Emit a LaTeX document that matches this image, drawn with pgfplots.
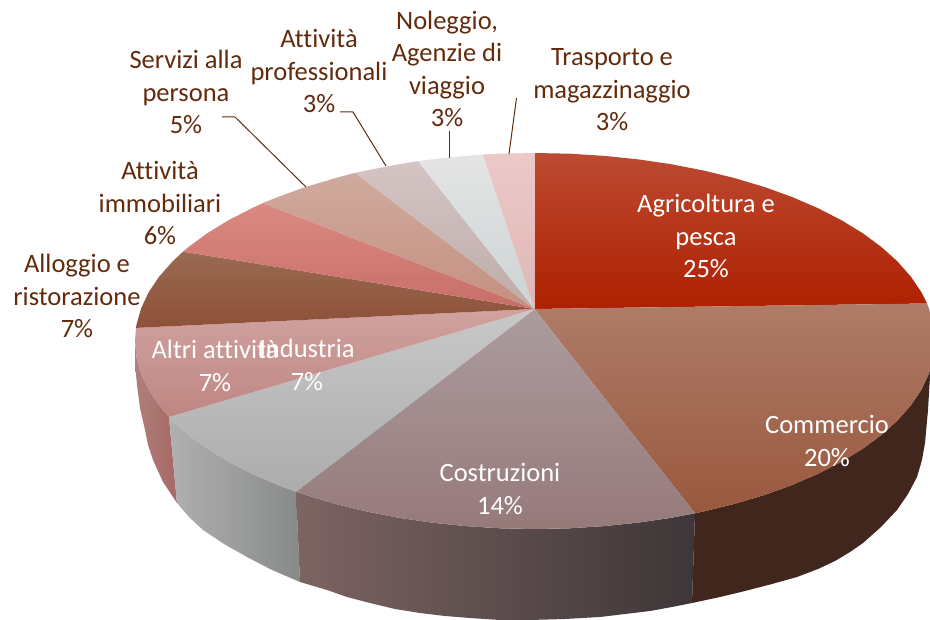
\documentclass[border=0pt]{standalone}
\usepackage{pgfplots}
\pgfplotsset{compat=1.18}
\usepackage{fontspec}
\setmainfont[Ligatures=NoCommon]{Carlito}
\definecolor{lab}{HTML}{632A0C}
\newcommand{\lf}{\fontsize{26.5}{32.5}\selectfont}
\begin{document}
\begin{tikzpicture}
\begin{axis}[
  at={(0,0)}, anchor=south west,
  scale only axis, width=930pt, height=620pt,
  xmin=0, xmax=930, ymin=0, ymax=620, y dir=reverse,
  hide axis, clip=true, no markers,
  every axis plot/.append style={draw=none, line join=round},
]
% --- side faces ---
\addplot[left color={rgb,255:red,176;green,128;blue,124}, right color={rgb,255:red,166;green,104;blue,100}] coordinates {
(169,417)(159.1,405.3)(148.6,389.7)(141.1,373.6)(136.5,357.4)(135,341)
(135,353)(135.5,370)(137,385)(140,408)(145,430)(148,445)(153,460)(163,482)(177,503)} -- cycle;
\addplot[left color={rgb,255:red,176;green,176;blue,176}, right color={rgb,255:red,136;green,138;blue,138}] coordinates {
(296,491.7)(277.9,485)(252.2,473.9)(228.6,461.8)(207.3,448.8)(188.6,435)(172.5,420.5)(169,417)
(177,503)(189,517)(203,530)(224,544)(247,557)(272,570)(300,582)} -- cycle;
\addplot[left color={rgb,255:red,124;green,100;blue,98}, right color={rgb,255:red,62;green,54;blue,56}] coordinates {
(695,513.3)(671.8,517.7)(638.5,522.6)(604.4,526.1)(569.9,528.3)(535,529)(500.1,528.3)(465.5,526.1)(431.5,522.6)(398.2,517.7)(366,511.4)(335,503.8)(305.6,495)(296,491.7)
(300,582)(327,590)(347,597)(370,603)(395,609)(420,613)(445,616)(470,618)(500,620)(530,620)(565,619)(600,617)(625,614)(650,611)(672,607)(692,603)} -- cycle;
\addplot[fill={rgb,255:red,64;green,38;blue,28}] coordinates {
(933.5,357.4)(928.9,373.6)(921.4,389.7)(910.9,405.3)(897.5,420.5)(881.4,435)(862.7,448.8)(841.4,461.8)(817.8,473.9)(792.1,485)(764.4,495)(735,503.8)(704,511.4)(695,513.3)
(692,603)(720,597)(745,591)(772,584)(797,577)(818,569)(835,561)(850,552)(863,543)(881,527)(897,510)(908,494)(917,477)(922,460)(925,443)(928,410)(930,377)} -- cycle;
% --- top faces ---
% Agricoltura e pesca
\addplot[top color={rgb,255:red,188;green,74;blue,50}, middle color={rgb,255:red,178;green,36;blue,4}, bottom color={rgb,255:red,174;green,32;blue,0}] coordinates {
(534.5,309)(535,153)(569.9,153.7)(604.4,155.9)(638.5,159.4)(671.8,164.3)(704,170.6)(735,178.2)(764.4,187)(792.1,197)(817.8,208.1)(841.4,220.2)(862.7,233.2)(881.4,247)(897.5,261.5)(910.9,276.7)(921.4,292.3)(927,303.5)} -- cycle;
% Commercio
\addplot[top color={rgb,255:red,174;green,124;blue,104}, bottom color={rgb,255:red,154;green,88;blue,62}] coordinates {
(534.5,309)(927,303.5)(928.9,308.4)(933.5,324.6)(935,341)(933.5,357.4)(928.9,373.6)(921.4,389.7)(910.9,405.3)(897.5,420.5)(881.4,435)(862.7,448.8)(841.4,461.8)(817.8,473.9)(792.1,485)(764.4,495)(735,503.8)(704,511.4)(695,513.3)} -- cycle;
% Costruzioni
\addplot[top color={rgb,255:red,172;green,156;blue,158}, bottom color={rgb,255:red,150;green,122;blue,122}] coordinates {
(534.5,309)(695,513.3)(671.8,517.7)(638.5,522.6)(604.4,526.1)(569.9,528.3)(535,529)(500.1,528.3)(465.5,526.1)(431.5,522.6)(398.2,517.7)(366,511.4)(335,503.8)(305.6,495)(296,491.7)} -- cycle;
% Industria
\addplot[top color={rgb,255:red,200;green,200;blue,200}, bottom color={rgb,255:red,172;green,172;blue,172}] coordinates {
(534.5,309)(296,491.7)(277.9,485)(252.2,473.9)(228.6,461.8)(207.3,448.8)(188.6,435)(172.5,420.5)(169,417)} -- cycle;
% Altri attivita
\addplot[top color={rgb,255:red,208;green,162;blue,160}, bottom color={rgb,255:red,190;green,134;blue,130}] coordinates {
(534.5,309)(169,417)(159.1,405.3)(148.6,389.7)(141.1,373.6)(136.5,357.4)(135,341)(136,327.9)} -- cycle;
% Alloggio e ristorazione
\addplot[top color={rgb,255:red,154;green,106;blue,82}, bottom color={rgb,255:red,142;green,80;blue,56}] coordinates {
(534.5,309)(136,327.9)(136.5,324.6)(141.1,308.4)(148.6,292.3)(159.1,276.7)(172.5,261.5)(183,251.6)} -- cycle;
% Attivita immobiliari
\addplot[top color={rgb,255:red,218;green,138;blue,130}, bottom color={rgb,255:red,200;green,110;blue,104}] coordinates {
(534.5,309)(183,251.6)(188.6,247)(207.3,233.2)(228.6,220.2)(252.2,208.1)(263,203)} -- cycle;
% Servizi alla persona
\addplot[top color={rgb,255:red,208;green,170;blue,158}, bottom color={rgb,255:red,196;green,144;blue,128}] coordinates {
(534.5,309)(263,203)(277.9,197)(305.6,187)(335,178.2)(355,172.9)} -- cycle;
% Attivita professionali
\addplot[top color={rgb,255:red,212;green,196;blue,196}, bottom color={rgb,255:red,190;green,172;blue,170}] coordinates {
(534.5,309)(355,172.9)(366,170.6)(398.2,164.3)(418,161.2)} -- cycle;
% Noleggio
\addplot[top color={rgb,255:red,228;green,228;blue,228}, bottom color={rgb,255:red,204;green,212;blue,212}] coordinates {
(534.5,309)(418,161.2)(431.5,159.4)(465.5,155.9)(482.8,154.6)} -- cycle;
% Trasporto
\addplot[top color={rgb,255:red,236;green,200;blue,200}, bottom color={rgb,255:red,222;green,184;blue,182}] coordinates {
(534.5,309)(482.8,154.6)(500.1,153.7)(535,153)} -- cycle;
% --- leader lines ---
\addplot[draw=lab, line width=1pt] coordinates {(222,117)(235,117)(306,187)};
\addplot[draw=lab, line width=1pt] coordinates {(340,112)(353,112)(386,166)};
\addplot[draw=lab, line width=1pt] coordinates {(449,131)(449,158)};
\addplot[draw=lab, line width=1pt] coordinates {(516.5,98)(509,154)};
% --- labels ---
\tikzset{w/.style={text=white, align=center, font=\lf, inner sep=0pt}, b/.style={text=lab, align=center, font=\lf, inner sep=0pt}}
\node[w] at (axis cs:706,236) {Agricoltura e\\pesca\\25\%};
\node[w] at (axis cs:827,441) {Commercio\\20\%};
\node[w] at (axis cs:500,489) {Costruzioni\\14\%};
\node[w] at (axis cs:215,366) {Altri attività\\7\%};
\node[w] at (axis cs:307,365) {Industria\\7\%};
\node[b] at (axis cs:77,296) {Alloggio e\\ristorazione\\7\%};
\node[b] at (axis cs:160,203) {Attività\\immobiliari\\6\%};
\node[b] at (axis cs:186,92) {Servizi alla\\persona\\5\%};
\node[b] at (axis cs:319,71) {Attività\\professionali\\3\%};
\node[b] at (axis cs:447,69) {Noleggio,\\Agenzie di\\viaggio\\3\%};
\node[b] at (axis cs:612,90) {Trasporto e\\magazzinaggio\\3\%};
\end{axis}
\path[use as bounding box] (0,0) rectangle (930pt,620pt);
\end{tikzpicture}
\end{document}
